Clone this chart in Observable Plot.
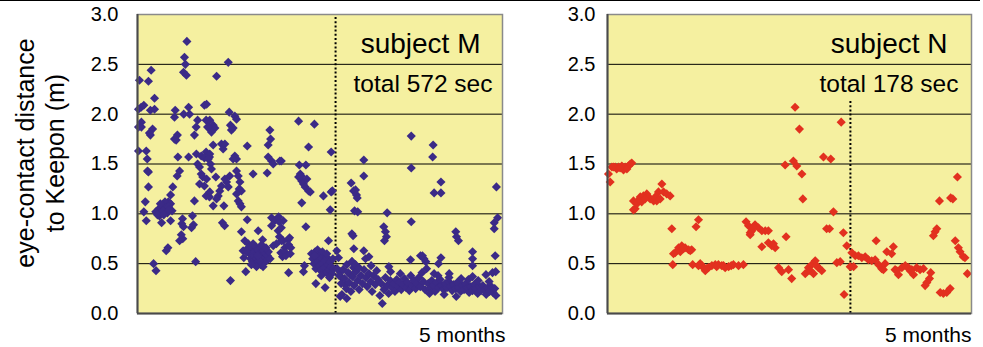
<!DOCTYPE html>
<html><head><meta charset="utf-8">
<script src="https://cdn.jsdelivr.net/npm/d3@7"></script>
<script src="https://cdn.jsdelivr.net/npm/@observablehq/plot@0.6"></script>
<style>
body{margin:0;background:#fff;font-family:"Liberation Sans",Arial,sans-serif;}
#wrap{position:relative;width:983px;height:347px;overflow:hidden;}
#rule{position:absolute;left:0;top:0;width:980px;height:1px;background:#000;}
#ytitle{position:absolute;left:40px;top:153px;transform:translate(-50%,-50%) rotate(-90deg);white-space:nowrap;text-align:center;font-size:25px;line-height:30px;color:#000;}
.panel{position:absolute;top:0;}
.panel svg{overflow:visible;}
</style></head>
<body>
<div id="wrap">
  <div id="rule"></div>
  <div id="ytitle">eye-contact distance<br>to Keepon (m)</div>
  <div id="left" class="panel" style="left:0px"></div>
  <div id="right" class="panel" style="left:510px"></div>
</div>
<script>
// time in days over 5 months (0-150), eye-contact distance in m
const subjectM = [
[20.3,2.73],[19.3,2.57],[19.7,2.50],[18.9,2.42],[20.1,2.39],
[5.6,2.44],[0.8,2.34],[4.5,2.33],[7.0,2.16],
[1.5,2.07],[0.4,2.05],[2.6,2.09],[5.3,2.04],[7.0,2.05],
[15.5,2.04],[15.2,1.97],[19.0,2.00],[21.0,2.07],[21.4,2.00],[27.5,2.09],
[1.6,1.92],[0.4,1.87],[1.6,1.87],[6.2,1.85],[5.3,1.79],[4.9,1.81],
[24.7,1.94],[24.1,1.87],[23.4,1.79],[28.2,1.94],[28.8,1.87],
[16.4,1.79],[15.9,1.74],[15.2,1.75],
[0.4,1.63],[3.6,1.63],[4.0,1.55],[4.1,1.43],[4.5,1.42],
[16.6,1.57],[21.0,1.57],
[24.2,1.60],[26.2,1.58],[28.2,1.62],[27.5,1.56],[29.6,1.57],[24.7,1.50],[25.5,1.47],
[17.3,1.43],[16.3,1.38],
[26.2,1.40],[26.8,1.37],[25.5,1.30],[27.5,1.28],[28.2,1.18],[29.6,1.17],
[4.5,1.27],[14.5,1.27],[13.6,1.19],[12.7,1.12],[23.4,1.13],[3.2,1.12],[2.6,1.02],
[11.3,1.12],[10.1,1.08],[8.8,1.05],[7.5,1.02],[9.6,1.01],[11.9,1.04],[13.6,1.10],[14.2,1.03],[9.0,0.98],[11.5,1.06],[12.7,1.07],[10.5,1.03],[9.4,1.10],[12.3,1.01],[8.2,0.99],[10.8,0.99],[13.0,1.04],
[3.6,0.93],[9.9,0.91],[13.6,0.93],[18.5,0.95],[18.2,0.90],[18.9,0.87],[22.6,0.98],[23.0,0.89],[22.2,0.86],
[17.3,0.73],[18.6,0.75],[12.5,0.66],[11.8,0.63],[18.0,0.79],
[23.9,0.52],[6.6,0.50],[7.6,0.43],
[37.3,2.52],[32.5,2.38],[28.4,2.10],
[37.7,2.02],[40.0,1.98],[40.7,1.95],
[29.7,1.94],[31.1,1.89],[31.8,1.86],[30.4,1.82],[29.1,1.87],
[38.2,1.89],[38.6,1.84],[39.3,1.86],
[31.1,1.69],[34.5,1.70],[35.2,1.65],[35.9,1.70],[45.1,1.68],
[54.4,1.84],[54.7,1.75],[53.7,1.69],
[29.7,1.60],[29.1,1.55],[30.0,1.50],[30.4,1.45],
[40.0,1.58],[40.7,1.55],[39.3,1.55],
[53.7,1.57],[55.1,1.53],[55.8,1.50],[58.5,1.53],
[47.5,1.40],[53.3,1.41],
[40.7,1.43],[41.4,1.38],[42.1,1.32],[41.8,1.25],[42.7,1.23],[37.9,1.38],
[28.4,1.35],[32.2,1.37],[35.9,1.35],[36.6,1.32],[37.3,1.27],[34.5,1.28],[33.8,1.23],[33.2,1.18],[32.5,1.15],[29.7,1.22],[31.1,1.08],[35.5,1.08],
[40.7,1.20],[41.4,1.13],[42.1,1.10],[42.7,1.07],
[34.9,0.91],[35.8,0.88],[45.1,0.94],
[55.1,0.96],[56.4,0.93],[55.1,0.88],
[49.6,0.83],[51.4,0.74],
[42.7,0.82],[44.1,0.73],[45.5,0.70],[43.4,0.63],[43.7,0.56],[44.5,0.42],
[59.9,0.93],[57.8,0.83],[59.2,0.73],[55.8,0.68],[57.1,0.70],
[46.0,0.60],[46.5,0.55],[47.0,0.65],[47.2,0.52],[47.8,0.58],[48.0,0.62],[48.3,0.50],[48.6,0.67],[49.0,0.55],[49.2,0.60],[49.5,0.64],[49.8,0.52],[50.0,0.57],[50.3,0.61],[50.6,0.49],[50.9,0.66],[51.2,0.54],[51.5,0.59],[51.8,0.63],[52.1,0.51],[52.4,0.56],[52.7,0.60],[53.0,0.53],[53.4,0.58],[53.8,0.62],[45.5,0.66],[47.5,0.70],[48.9,0.47],[51.0,0.69],[52.8,0.66],[46.8,0.49],[50.1,0.53],[49.4,0.58],[51.6,0.47],[44.8,0.62],[54.5,0.55],
[38.2,0.33],[59.6,0.57],
[66.2,1.93],[72.7,1.90],[70.3,1.67],[79.6,1.62],[59.1,1.53],
[66.5,1.49],[69.2,1.49],
[66.9,1.40],[66.2,1.37],[67.5,1.33],[68.2,1.30],[68.9,1.27],[70.3,1.23],[71.0,1.22],[69.6,1.35],[67.3,1.38],
[67.5,1.11],[76.4,1.18],[79.6,1.22],[80.1,1.23],[79.2,1.04],
[58.0,0.97],[58.2,0.92],[59.1,0.86],[58.3,0.77],[59.9,0.73],[60.6,0.66],[61.9,0.74],[62.5,0.76],[62.1,0.69],[63.0,0.66],[59.5,0.60],[58.9,0.61],[60.5,0.62],[61.0,0.58],[62.8,0.60],
[69.2,0.87],[78.5,0.73],
[71.5,0.60],[72.0,0.55],[72.5,0.50],[73.0,0.62],[73.3,0.45],[73.8,0.57],[74.2,0.52],[74.6,0.48],[75.0,0.60],[75.3,0.43],[75.7,0.55],[76.1,0.50],[76.5,0.58],[76.8,0.46],[77.2,0.53],[77.6,0.41],[78.0,0.56],[78.3,0.49],[78.7,0.44],[79.1,0.52],[79.5,0.47],[79.9,0.40],[80.3,0.55],[80.6,0.45],[74.0,0.64],[76.0,0.62],[77.8,0.60],[72.8,0.58],[75.5,0.38],[78.9,0.36],
[62.1,0.41],[68.2,0.42],[68.6,0.48],[73.3,0.30],[77.1,0.26],
[81.9,0.63],[82.6,0.56],[83.3,0.42],[84.0,0.36],[85.4,0.29],[86.0,0.49],[87.4,0.39],[88.1,0.52],[88.8,0.46],[83.3,0.17],[84.0,0.19],
[87.8,1.31],[88.8,1.23],[88.1,0.80],[89.2,1.03],
[112.5,1.78],[93.0,1.54],[93.0,1.38],[112.5,1.46],
[89.6,1.24],[90.0,1.19],[90.3,1.16],[90.5,1.02],
[102.6,1.01],[101.2,0.87],[101.9,0.82],[102.3,0.77],[101.5,0.73],
[112.5,0.92],[88.6,0.78],
[88.9,0.65],[93.0,0.63],[93.7,0.55],[95.1,0.57],[88.2,0.52],[89.6,0.49],
[112.2,0.54],[116.3,0.58],[117.7,0.55],[103.3,0.47],
[82.0,0.45],[82.9,0.38],[83.7,0.30],[84.5,0.44],[85.1,0.35],[85.8,0.25],[86.6,0.41],[87.0,0.31],[87.7,0.22],[88.4,0.37],[89.0,0.28],[89.8,0.42],[90.4,0.33],[91.1,0.24],[91.8,0.38],[92.5,0.30],[93.1,0.44],[93.8,0.36],[94.4,0.27],[95.1,0.40],[95.8,0.32],[96.4,0.22],[97.0,0.38],[97.7,0.29],[98.3,0.43],[98.9,0.34],[99.6,0.18],[100.2,0.30],[100.6,0.10],[101.3,0.24],[101.9,0.36],[102.6,0.28],[103.2,0.20],[103.9,0.33],[104.5,0.26],[105.2,0.30],[105.8,0.22],[106.5,0.34],[107.1,0.27],[107.8,0.31],[108.4,0.24],[109.1,0.29],[109.7,0.35],[110.4,0.26],[111.0,0.31],[111.7,0.23],[112.3,0.38],[113.0,0.28],[113.6,0.33],[114.3,0.25],[114.9,0.30],[115.6,0.36],[116.2,0.27],[116.9,0.41],[117.5,0.32],[118.2,0.24],[118.8,0.45],[86.0,0.15],[91.0,0.46],[96.0,0.48],[104.0,0.42],[108.0,0.40],
[121.5,1.69],[121.3,1.57],[124.7,1.32],[121.9,1.21],[124.7,1.21],[147.5,1.27],
[130.8,0.82],[131.1,0.77],[131.9,0.73],
[148.0,0.96],[146.6,0.91],[146.6,0.85],[147.0,0.58],
[124.7,0.56],[123.7,0.50],[137.7,0.62],[137.7,0.55],[137.7,0.48],
[117.1,0.58],[118.5,0.52],[121.9,0.40],[128.1,0.40],[137.7,0.37],[143.2,0.39],[145.9,0.41],[147.2,0.42],
[119.5,0.30],[120.2,0.25],[120.9,0.33],[121.6,0.28],[122.3,0.22],[123.0,0.31],[123.7,0.26],[124.4,0.34],[125.1,0.28],[125.8,0.24],[126.5,0.30],[127.2,0.26],[127.9,0.32],[128.6,0.27],[129.3,0.23],[130.0,0.29],[130.7,0.25],[131.4,0.31],[132.1,0.26],[132.8,0.22],[133.5,0.28],[134.2,0.24],[134.9,0.30],[135.6,0.26],[136.3,0.21],[137.0,0.27],[137.7,0.23],[138.4,0.29],[139.1,0.25],[139.8,0.20],[140.5,0.27],[141.2,0.23],[141.9,0.28],[142.6,0.24],[143.3,0.19],[144.0,0.26],[144.7,0.22],[145.4,0.27],[146.1,0.21],[146.8,0.25],[147.3,0.18],[128.0,0.36],[133.0,0.35],[140.0,0.33],[144.5,0.32],[123.5,0.38],[136.0,0.34],[120.0,0.20],[126.0,0.19],[131.0,0.17]
];
const subjectN = [
[0.4,1.40],[1.1,1.32],[1.8,1.47],[3.2,1.47],[4.5,1.47],[5.9,1.48],[7.3,1.47],[8.7,1.48],[10.0,1.51],[3.8,1.45],[6.6,1.44],[8.0,1.45],[2.5,1.47],[5.2,1.46],[9.4,1.50],
[10.7,1.13],[11.4,1.05],[10.7,1.04],[12.1,1.10],[13.5,1.17],[14.8,1.18],[16.2,1.20],[17.6,1.15],[19.0,1.13],[20.3,1.13],[21.0,1.22],[22.4,1.30],[23.1,1.22],[24.4,1.20],[25.8,1.18],[14.1,1.12],[16.9,1.17],[19.7,1.17],[21.7,1.15],[12.9,1.14],[15.5,1.15],
[26.5,0.85],[36.5,0.87],[37.5,0.94],
[27.9,0.61],[29.3,0.66],[30.6,0.68],[32.0,0.66],[33.4,0.64],[34.7,0.64],[30.0,0.62],[27.2,0.60],[31.3,0.65],[34.1,0.63],
[26.9,0.49],
[35.1,0.49],[38.2,0.50],[38.9,0.48],[40.3,0.43],[41.6,0.46],[43.0,0.48],[44.4,0.49],[45.7,0.49],[47.1,0.48],[48.5,0.46],[39.6,0.46],[37.5,0.48],[40.9,0.45],[45.0,0.47],
[47.8,0.48],[49.9,0.47],[51.0,0.48],[51.9,0.49],[54.0,0.48],[56.0,0.49],
[57.1,0.92],[58.1,0.88],[58.8,0.81],[59.5,0.83],[60.8,0.89],[62.2,0.86],[63.6,0.83],[65.0,0.83],[66.3,0.83],[58.8,0.79],[60.1,0.86],
[63.6,0.67],[66.3,0.71],[67.7,0.68],[69.1,0.66],[68.4,0.70],
[73.6,0.77],
[70.5,0.46],[71.8,0.42],[74.6,0.44],[75.9,0.35],
[77.3,2.07],[79.1,1.85],[73.2,1.49],[76.6,1.53],[78.0,1.48],[80.1,1.40],[80.5,1.15],
[81.5,0.40],[82.8,0.46],[84.2,0.49],[85.6,0.53],[86.9,0.46],[88.3,0.43],[83.5,0.43],[84.9,0.40],[86.2,0.48],
[89.0,1.57],[92.0,1.55],[90.3,0.85],[91.5,0.85],[93.1,1.02],
[94.5,0.51],[95.9,0.52],[96.3,1.92],[97.2,0.81],[97.5,0.19],
[98.6,0.68],[100.0,0.47],
[100.7,0.61],[102.1,0.58],[103.4,0.58],[104.8,0.56],[106.2,0.57],[107.5,0.54],[108.9,0.53],[110.3,0.54],
[101.4,0.47],[110.7,0.73],
[111.7,0.49],[113.0,0.45],[114.4,0.50],[113.7,0.44],
[115.1,0.62],[117.8,0.67],[117.1,0.60],
[118.5,0.44],[119.9,0.39],[121.3,0.46],[122.7,0.48],[124.0,0.46],[125.4,0.44],[126.1,0.39],[127.4,0.46],[128.8,0.44],[130.2,0.45],[119.2,0.43],[124.7,0.43],
[130.9,0.28],[131.6,0.31],[132.7,0.35],[133.2,0.41],
[135.0,0.82],[134.3,0.78],[135.7,0.85],[136.8,1.13],
[137.1,0.21],[138.4,0.20],[139.8,0.21],[141.2,0.25],
[141.4,1.16],[142.3,1.15],[144.2,1.37],
[143.3,0.73],[144.6,0.66],[145.3,0.62],[146.6,0.57],[147.3,0.56],[148.3,0.40]
];
const yTicks = [0, 0.5, 1.0, 1.5, 2.0, 2.5, 3.0];
const gridLevels = [0.5, 1.0, 1.5, 2.0, 2.5];
const panelTitles = ["subject M", "subject N"];
const panelTotals = ["total 572 sec", "total 178 sec"];
const periodLabel = "5 months";
const markerDays = [81.4, 100.1];   // dotted divider (day)
const markerTops = [3.0, 2.15];     // dotted divider top (m)
const colors = ["#3B2A87", "#E2301F"];

const FONT = '"Liberation Sans", Arial, sans-serif';

function panel(i, o) {
  const data = i === 0 ? subjectM : subjectN;
  return Plot.plot({
    width: o.width, height: 347,
    marginLeft: o.ml, marginRight: o.mr, marginTop: 14, marginBottom: 34,
    style: {fontFamily: FONT, fontSize: "20px", color: "#000", background: "transparent", overflow: "visible"},
    x: {domain: [0, 150], axis: null},
    y: {domain: [0, 3]},
    marks: [
      Plot.frame({fill: "#F5F0A0", stroke: null}),
      Plot.gridY(gridLevels, {stroke: "#000", strokeOpacity: 1, strokeWidth: 1}),
      Plot.ruleX([markerDays[i]], {y1: 0, y2: markerTops[i], stroke: "#000", strokeWidth: 2, strokeDasharray: "2,2.2"}),
      Plot.dot(data, {x: d => d[0], y: d => d[1], symbol: "diamond2", r: 4.1, fill: colors[i], stroke: null}),
      Plot.frame({stroke: "#8a8a8a", strokeWidth: 1.5}),
      Plot.ruleX([0], {stroke: "#4a4a4a", strokeWidth: 2}),
      Plot.ruleY([0], {stroke: "#4a4a4a", strokeWidth: 2}),
      Plot.axisY({ticks: yTicks, tickFormat: d => d.toFixed(1), tickSize: 0, tickPadding: o.pad, label: null, fontSize: 20}),
      Plot.text([panelTitles[i]], {text: d => d, frameAnchor: "top-right", textAnchor: "end", lineAnchor: "bottom", dx: o.tdx, dy: 38.5, fontSize: 28}),
      Plot.text([panelTotals[i]], {text: d => d, frameAnchor: "top-right", textAnchor: "end", lineAnchor: "bottom", dx: o.sdx, dy: 77.5, fontSize: 24.5}),
      Plot.text([periodLabel], {text: d => d, frameAnchor: "bottom-right", textAnchor: "end", lineAnchor: "bottom", dx: o.mdx, dy: 28, fontSize: 21})
    ]
  });
}

document.getElementById("left").appendChild(panel(0, {width: 510, ml: 137, mr: 8, pad: 19, tdx: -22, sdx: -10, mdx: 3}));
document.getElementById("right").appendChild(panel(1, {width: 473, ml: 97, mr: 12, pad: 12, tdx: -24, sdx: -13, mdx: 0}));
</script>
</body></html>
